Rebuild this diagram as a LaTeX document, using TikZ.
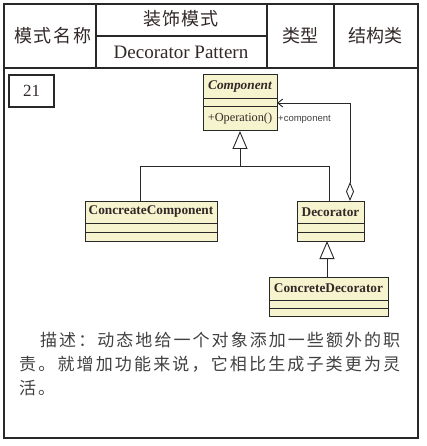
\documentclass[tikz,border=0pt]{standalone}
\usepackage{fontspec}
\setmainfont{Liberation Serif}
\newfontfamily\cjk{Noto Sans CJK SC}
\newfontfamily\lsans{Liberation Sans}
\usetikzlibrary{arrows.meta}
\definecolor{clsfill}{RGB}{246,244,206}
\definecolor{ink}{RGB}{40,40,40}
\definecolor{txt}{RGB}{50,40,40}
\definecolor{desc}{RGB}{65,65,65}
\makeatletter
\newcommand\spreadline[2]{\hbox to #1{\@tfor\cjc:=#2\do{\cjc\hfil}\unskip}}
\makeatother
\begin{document}
\begin{tikzpicture}[x=1pt,y=-1pt,
  tbl/.style={draw=ink,line width=1.3pt},
  cls/.style={draw=ink,fill=clsfill,line width=1pt,inner sep=0pt,outer sep=0pt,text=txt},
  clsname/.style={cls,font=\fontsize{13.3}{15}\selectfont\bfseries},
  conn/.style={draw=ink,line width=0.9pt},
  gen/.style={conn,-{Triangle[open,length=18pt,width=15pt,fill=white]}},
  head/.style={inner sep=0pt,text=txt,font=\cjk\fontsize{18}{20}\selectfont},
  desctxt/.style={inner sep=0pt,anchor=west,text=desc,font=\cjk\fontsize{17}{19}\selectfont}]
\useasboundingbox (0,0) rectangle (427,446);
\fill[white] (0,0) rectangle (427,446);
% table
\draw[tbl] (4,4) rectangle (418,438);
\draw[tbl] (4,68) -- (418,68);
\draw[tbl] (96,4) -- (96,68);
\draw[tbl] (267,4) -- (267,68);
\draw[tbl] (334,4) -- (334,68);
\draw[tbl] (96,36) -- (267,36);
\node[head] (h1) at (53,36) {\spreadline{78pt}{模式名称}};
\node[head] (h2) at (181,19) {\spreadline{75pt}{装饰模式}};
\node[inner sep=0pt,text=txt,font=\fontsize{19}{21}\selectfont] (h3) at (181,52) {Decorator Pattern};
\node[head] (h4) at (299,36) {\spreadline{34pt}{类型}};
\node[head] (h5) at (375,36) {\spreadline{54pt}{结构类}};
% number box
\node[draw=ink,line width=1.2pt,minimum width=45pt,minimum height=32pt,inner sep=0pt,text=txt,font=\fontsize{17}{19}\selectfont] (num) at (31.5,91) {21};
% Component
\node[clsname,minimum width=74pt,minimum height=24pt] (compN) at (240,87) {\itshape Component};
\node[cls,minimum width=74pt,minimum height=8pt,anchor=north] (compA) at (compN.south) {};
\node[cls,minimum width=74pt,minimum height=24pt,anchor=north,font=\fontsize{12.3}{14}\selectfont] (compO) at (compA.south) {+Operation()};
% ConcreateComponent
\node[clsname,minimum width=132pt,minimum height=22pt] (ccN) at (151,212) {ConcreateComponent};
\node[cls,minimum width=132pt,minimum height=9pt,anchor=north] (ccA) at (ccN.south) {};
\node[cls,minimum width=132pt,minimum height=9pt,anchor=north] (ccO) at (ccA.south) {};
% Decorator
\node[clsname,minimum width=67pt,minimum height=22pt] (decN) at (330.5,212) {Decorator};
\node[cls,minimum width=67pt,minimum height=9pt,anchor=north] (decA) at (decN.south) {};
\node[cls,minimum width=67pt,minimum height=9pt,anchor=north] (decO) at (decA.south) {};
% ConcreteDecorator
\node[clsname,minimum width=119pt,minimum height=23pt] (cdN) at (328.5,288.5) {ConcreteDecorator};
\node[cls,minimum width=119pt,minimum height=8pt,anchor=north] (cdA) at (cdN.south) {};
\node[cls,minimum width=119pt,minimum height=8pt,anchor=north] (cdO) at (cdA.south) {};
% connectors
\coordinate (busL) at (140,166);
\coordinate (busR) at (329,166);
\coordinate (busM) at (240,166);
\draw[conn] (ccN.north -| busL) |- (busR) -- (decN.north -| busR);
\draw[gen] (busM) -- (compO.south -| busM);
\coordinate (aggX) at (350,0);
\draw[conn,{Diamond[open,length=19pt,width=8pt,fill=white]}-{Straight Barb[length=5pt,width=8pt]}] (decN.north -| aggX) |- (compA.east);
\node[inner sep=1pt,anchor=west,text=desc,font=\lsans\fontsize{9.5}{11}\selectfont] (lbl) at (compO.east) {+component};
\coordinate (cdX) at (327,0);
\draw[gen] (cdN.north -| cdX) -- (decO.south -| cdX);
% description
\node[desctxt] (d1) at (40,340) {\spreadline{360pt}{描述：动态地给一个对象添加一些额外的职}};
\node[desctxt] (d2) at (19,364) {\spreadline{381pt}{责。就增加功能来说，它相比生成子类更为灵}};
\node[desctxt] (d3) at (19,388) {\spreadline{36pt}{活。}};
\end{tikzpicture}
\end{document}
